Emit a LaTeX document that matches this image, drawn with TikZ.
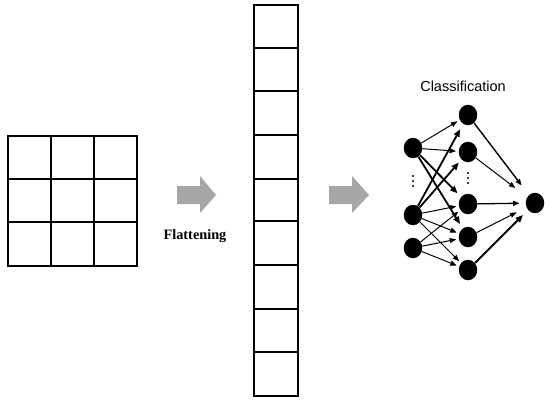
\documentclass[tikz,border=0pt]{standalone}
\usepackage{fontspec}
\setmainfont{Liberation Serif}
\newfontfamily\arialf{Liberation Sans}
\usetikzlibrary{arrows.meta,shapes.geometric}
\begin{document}
\begin{tikzpicture}[x=1pt,y=-1pt,
  gridline/.style={line width=1.8pt,line cap=rect},
  neuron/.style={ellipse,fill=black,minimum width=18.5pt,minimum height=20.5pt,inner sep=0pt},
  dot/.style={circle,fill=black,minimum size=2.2pt,inner sep=0pt},
  edge/.style={line width=1pt,-{Triangle[length=6.5pt,width=5pt]},shorten >=2.5pt},
  heavyedge/.style={line width=1.8pt,-{Triangle[length=7.5pt,width=6pt]},shorten >=2.5pt},
  bigarrow/.style={fill=black!35}
]
\useasboundingbox (0,0) rectangle (550,402);

% 3x3 grid
\draw[gridline] (8,136) rectangle (137,266);
\draw[gridline] (51,136) -- (51,266) (94,136) -- (94,266);
\draw[gridline] (8,179) -- (137,179) (8,222) -- (137,222);

% flattened column (three blocks)
\draw[gridline] (254,5) rectangle (298,134.6);
\draw[gridline] (254,48) -- (298,48) (254,91) -- (298,91);
\draw[gridline] (254,135.4) rectangle (298,264.6);
\draw[gridline] (254,179) -- (298,179) (254,221) -- (298,221);
\draw[gridline] (254,265.4) rectangle (298,396);
\draw[gridline] (254,309) -- (298,309) (254,352) -- (298,352);

% grey arrows
\fill[bigarrow] (177,186) -- (200,186) -- (200,176) -- (216,195) -- (200,213) -- (200,204) -- (177,204) -- cycle;
\fill[bigarrow] (329,186) -- (352,186) -- (352,176) -- (369,195) -- (352,213) -- (352,204) -- (329,204) -- cycle;

% labels
\node[anchor=base,inner sep=0pt,font=\bfseries\fontsize{14.3}{16}\selectfont] (flat) at (195,239) {Flattening};
\node[anchor=base,inner sep=0pt,font=\arialf\fontsize{14.5}{17}\selectfont] (cls) at (463,91) {Classification};

% neurons
\node[neuron] (i1) at (413,148) {};
\node[neuron] (i2) at (413,215) {};
\node[neuron] (i3) at (413,248) {};
\node[neuron] (h1) at (468,115) {};
\node[neuron] (h2) at (468,152) {};
\node[neuron] (h4) at (468,204) {};
\node[neuron] (h5) at (468,237) {};
\node[neuron] (h6) at (468,270) {};
\node[neuron] (o) at (535,203) {};

% vertical dots
\node[dot] (d1) at (413,176) {};
\node[dot] (d2) at (413,181) {};
\node[dot] (d3) at (413,186) {};
\node[dot] (e1) at (468,173) {};
\node[dot] (e2) at (468,178) {};
\node[dot] (e3) at (468,183) {};

% input -> hidden
\draw[edge] (i1) -- (h1);
\draw[edge] (i1) -- (h2);
\draw[heavyedge,shorten >=5pt] (i1) -- (h4);
\draw[heavyedge,shorten >=5pt] (i1) -- (h5);
\draw[heavyedge,shorten >=6pt] (i2) -- (h1);
\draw[heavyedge,shorten >=4pt] (i2) -- (h2);
\draw[edge] (i2) -- (h4);
\draw[edge] (i2) -- (h5);
\draw[edge] (i2) -- (h6);
\draw[edge] (i3) -- (h4);
\draw[edge] (i3) -- (h5);
\draw[edge] (i3) -- (h6);

% hidden -> output
\draw[edge,line width=1.4pt,shorten >=12pt] (h1) -- (o);
\draw[edge,shorten >=15pt] (h2) -- (o);
\draw[edge,line width=1.3pt,shorten >=6pt] (h4) -- (o);
\draw[edge,shorten >=11pt] (h5) -- (o);
\draw[heavyedge,shorten >=7pt] (h6) -- (o);
\end{tikzpicture}
\end{document}
